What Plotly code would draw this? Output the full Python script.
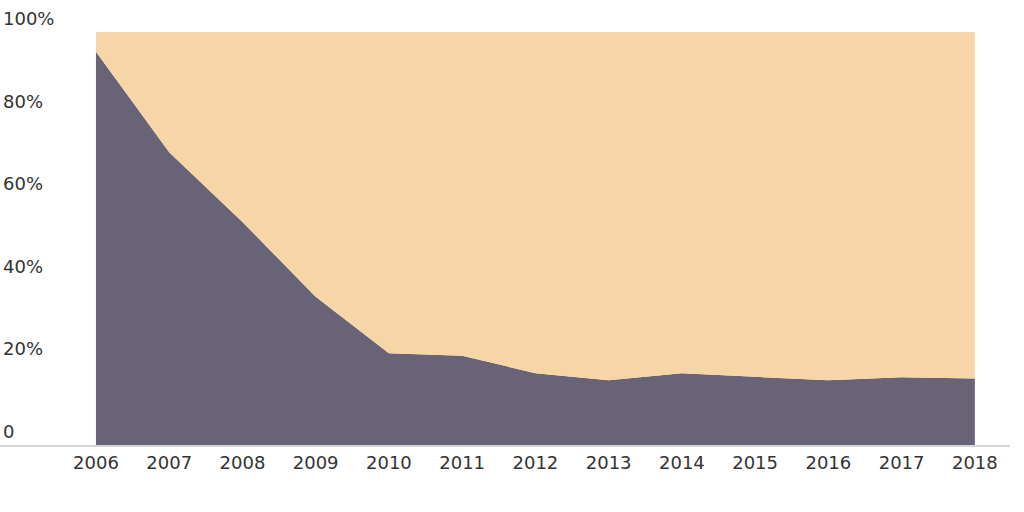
import plotly.graph_objects as go

years = list(range(2006, 2019))
dark_share = [95.2, 70.9, 54.0, 35.9, 22.2, 21.6, 17.4, 15.7, 17.4, 16.5, 15.7, 16.4, 16.1]
light_share = [4.8, 29.1, 46.0, 64.1, 77.8, 78.4, 82.6, 84.3, 82.6, 83.5, 84.3, 83.6, 83.9]

y_ticks = [0, 20, 40, 60, 80, 100]
y_labels = ["0", "20%", "40%", "60%", "80%", "100%"]

fig = go.Figure()
fig.add_trace(go.Scatter(x=years, y=dark_share, stackgroup="one", mode="none",
                         fillcolor="#686377", hoverinfo="x+y"))
fig.add_trace(go.Scatter(x=years, y=light_share, stackgroup="one", mode="none",
                         fillcolor="#f6d6a7", hoverinfo="x+y"))

# y labels sit just above their (invisible) gridlines, flush left
for v, lab in zip(y_ticks, y_labels):
    fig.add_annotation(x=0, xref="paper", xanchor="left", xshift=1,
                       y=v, yref="y", yanchor="bottom", yshift=1,
                       text=lab, showarrow=False)

fig.update_layout(
    width=1024, height=512,
    margin=dict(l=0, r=14, t=32, b=67),
    paper_bgcolor="white", plot_bgcolor="white",
    showlegend=False,
    font=dict(family="DejaVu Sans", size=18, color="#333333"),
    xaxis=dict(range=[2004.69, 2018.48], tickvals=years, ticktext=[str(y) for y in years],
               showgrid=False, zeroline=False, showline=True, linecolor="#d4d4d4",
               linewidth=2, ticks="", ticklabelstandoff=0, automargin=False),
    yaxis=dict(range=[0, 100], showticklabels=False,
               showgrid=False, zeroline=False, showline=False, ticks="",
               automargin=False),
)

fig.write_html("out.html", config={"displayModeBar": False},
               post_script="document.body.style.margin='0';")
